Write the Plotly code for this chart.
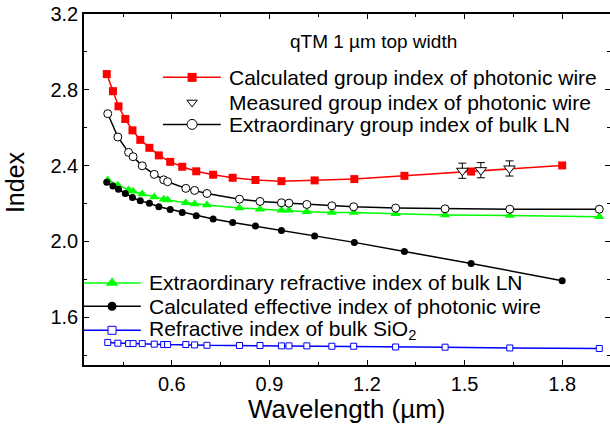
import plotly.graph_objects as go

# ---------------- data ----------------
wl_wire = [0.400, 0.419, 0.436, 0.457, 0.479, 0.503, 0.531, 0.560, 0.595, 0.632,
           0.675, 0.727, 0.787, 0.857, 0.937, 1.039, 1.161, 1.315, 1.520, 1.800]
ng_wire = [2.883, 2.793, 2.713, 2.646, 2.586, 2.536, 2.494, 2.454, 2.420, 2.394,
           2.370, 2.352, 2.336, 2.324, 2.318, 2.322, 2.329, 2.346, 2.369, 2.401]
neff_wire = [2.312, 2.293, 2.275, 2.253, 2.232, 2.214, 2.201, 2.183, 2.169, 2.153,
             2.135, 2.118, 2.100, 2.081, 2.058, 2.028, 1.995, 1.947, 1.884, 1.792]

wl_bulk = [0.403, 0.434, 0.467, 0.481, 0.509, 0.546, 0.575, 0.587, 0.643, 0.670, 0.708,
           0.808, 0.871, 0.937, 0.960, 1.015, 1.092, 1.159, 1.288, 1.440, 1.639, 1.914]
ng_ln = [2.674, 2.551, 2.470, 2.447, 2.399, 2.354, 2.325, 2.315, 2.280, 2.269, 2.253,
         2.223, 2.211, 2.204, 2.202, 2.195, 2.188, 2.183, 2.176, 2.172, 2.170, 2.170]
ne_ln = [2.324, 2.297, 2.271, 2.265, 2.250, 2.235, 2.223, 2.218, 2.204, 2.198, 2.192,
         2.177, 2.170, 2.165, 2.164, 2.156, 2.153, 2.152, 2.146, 2.140, 2.137, 2.130]
n_sio2 = [1.467, 1.463, 1.461, 1.461, 1.461, 1.458, 1.456, 1.456, 1.456, 1.454, 1.452,
          1.451, 1.451, 1.449, 1.449, 1.449, 1.447, 1.447, 1.443, 1.442, 1.438, 1.435]

wl_meas = [1.493, 1.550, 1.638]
ng_meas = [2.373, 2.376, 2.385]
err_meas = [0.04, 0.04, 0.04]

x_ticks = [0.6, 0.9, 1.2, 1.5, 1.8]
y_ticks = [1.6, 2.0, 2.4, 2.8, 3.2]

title_text = "qTM 1 µm top width"
x_title = "Wavelength (µm)"
y_title = "Index"
names = {
    "red": "Calculated group index of photonic wire",
    "meas": "Measured group index of photonic wire",
    "oc": "Extraordinary group index of bulk LN",
    "green": "Extraordinary refractive index of bulk LN",
    "bc": "Calculated effective index of photonic wire",
    "blue": "Refractive index of bulk SiO<sub>2</sub>",
}

# ---------------- styles ----------------
RED, GREEN, BLUE, BLACK = "#ff0000", "#00ff00", "#0000ff", "#000000"
FONT = "Liberation Sans, Arial, sans-serif"

styles = {
    "red": dict(line=dict(color=RED, width=1.5),
                marker=dict(symbol="square", size=8, color=RED, line=dict(width=0))),
    "oc": dict(line=dict(color=BLACK, width=1.5),
               marker=dict(symbol="circle", size=8, color="white", line=dict(color=BLACK, width=1))),
    "green": dict(line=dict(color=GREEN, width=1.5),
                  marker=dict(symbol="triangle-up", size=9, color=GREEN, line=dict(width=0))),
    "bc": dict(line=dict(color=BLACK, width=1.5),
               marker=dict(symbol="circle", size=7, color=BLACK, line=dict(width=0))),
    "blue": dict(line=dict(color=BLUE, width=1.5),
                 marker=dict(symbol="square", size=6, color="white", line=dict(color=BLUE, width=1))),
    "meas": dict(marker=dict(symbol="triangle-down", size=10, color="white",
                             line=dict(color=BLACK, width=1))),
}

fig = go.Figure()

series = [
    ("blue", wl_bulk, n_sio2),
    ("green", wl_bulk, ne_ln),
    ("bc", wl_wire, neff_wire),
    ("oc", wl_bulk, ng_ln),
    ("red", wl_wire, ng_wire),
]
for key, xs, ys in series:
    fig.add_trace(go.Scatter(x=xs, y=ys, mode="lines+markers", showlegend=False,
                             line=styles[key]["line"], marker=styles[key]["marker"],
                             hoverinfo="skip"))

fig.add_trace(go.Scatter(x=wl_meas, y=ng_meas, mode="markers", showlegend=False,
                         marker=styles["meas"]["marker"],
                         error_y=dict(type="data", array=err_meas, visible=True,
                                      color=BLACK, thickness=1, width=4)))

# ---------------- custom legend (layout positions in plot-area fractions) ----------------
upper = dict(x0=0.150, xm=0.2055, x1=0.260, xt=0.2728, rows=[0.8195, 0.748, 0.6855],
             keys=["red", "meas", "oc"])
lower = dict(x0=0.0, xm=0.0533, x1=0.108, xt=0.1206, rows=[0.2338, 0.1674, 0.0989],
             keys=["green", "bc", "blue"])
legend_marker_size = {"red": 9, "oc": 10, "green": 11, "bc": 9, "blue": 8, "meas": 9}

annotations = []
for blk in (upper, lower):
    for key, ry in zip(blk["keys"], blk["rows"]):
        st = styles[key]
        if "line" in st:
            fig.add_trace(go.Scatter(x=[blk["x0"], blk["x1"]], y=[ry, ry], mode="lines",
                                     line=st["line"], xaxis="x2", yaxis="y2",
                                     showlegend=False, hoverinfo="skip"))
        mk = dict(st["marker"])
        mk["size"] = legend_marker_size[key]
        fig.add_trace(go.Scatter(x=[blk["xm"]], y=[ry], mode="markers", marker=mk,
                                 xaxis="x2", yaxis="y2", showlegend=False, hoverinfo="skip"))
        annotations.append(dict(x=blk["xt"], y=ry, xref="paper", yref="paper",
                                text=names[key], showarrow=False, xanchor="left",
                                yanchor="middle", font=dict(family=FONT, size=21, color=BLACK)))

annotations.append(dict(x=0.551, y=0.921, xref="paper", yref="paper", text=title_text,
                        showarrow=False, xanchor="center", yanchor="middle",
                        font=dict(family=FONT, size=19, color=BLACK)))
# axis titles
annotations.append(dict(x=0.5, y=-0.125, xref="paper", yref="paper", text=x_title,
                        showarrow=False, xanchor="center", yanchor="middle",
                        font=dict(family=FONT, size=26, color=BLACK)))
annotations.append(dict(x=-0.13, y=0.52, xref="paper", yref="paper", text=y_title,
                        showarrow=False, xanchor="center", yanchor="middle", textangle=-90,
                        font=dict(family=FONT, size=25, color=BLACK)))

axis_common = dict(showgrid=False, zeroline=False, showline=True, linecolor=BLACK,
                   linewidth=1.5, mirror="ticks", ticks="inside", ticklen=5,
                   tickwidth=1.2, tickcolor=BLACK, automargin=False,
                   tickfont=dict(family=FONT, size=20, color=BLACK))

fig.update_layout(
    width=610, height=427,
    margin=dict(l=84, r=0, t=14, b=62, autoexpand=False),
    paper_bgcolor="white", plot_bgcolor="white",
    xaxis=dict(range=[0.33, 1.947], tickvals=x_ticks, ticktext=[f"{v:.1f}" for v in x_ticks],
               minor=dict(dtick=0.15, tick0=0.3, ticks="inside", ticklen=3, tickcolor=BLACK,
                          tickwidth=1.2, showgrid=False),
               **axis_common),
    yaxis=dict(range=[1.348, 3.2], tickvals=y_ticks, ticktext=[f"{v:.1f}" for v in y_ticks],
               minor=dict(dtick=0.2, tick0=0, ticks="inside", ticklen=3, tickcolor=BLACK,
                          tickwidth=1.2, showgrid=False),
               **axis_common),
    xaxis2=dict(range=[0, 1], overlaying="x", visible=False, fixedrange=True),
    yaxis2=dict(range=[0, 1], overlaying="y", visible=False, fixedrange=True),
    annotations=annotations,
)

fig.write_html("out.html",
               config={"displayModeBar": False},
               post_script="document.body.style.margin='0';document.body.style.padding='0';"
                           "document.body.style.overflow='hidden';")
